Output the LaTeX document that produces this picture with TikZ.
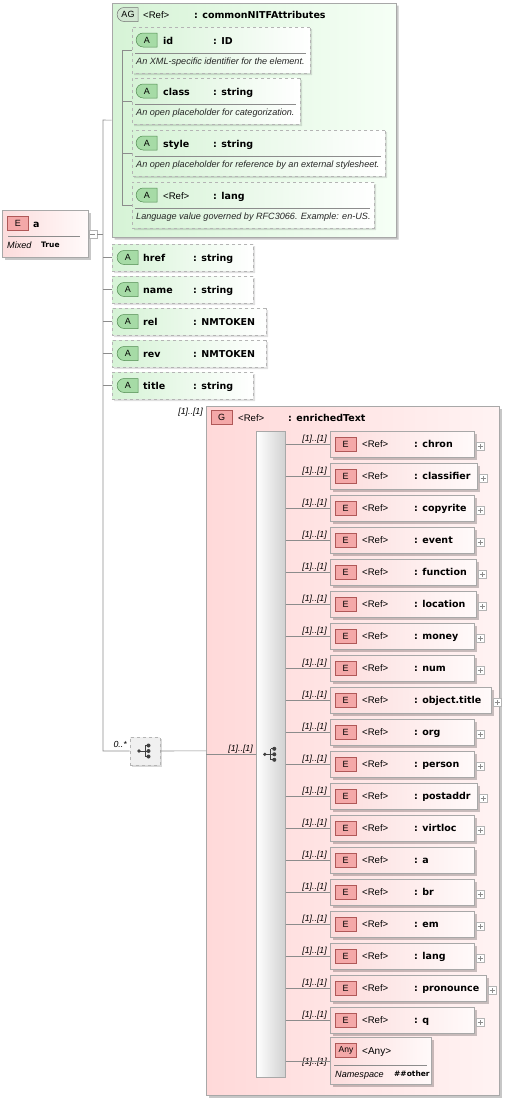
\documentclass[tikz,border=0pt]{standalone}
\usepackage{fontspec}
\setmainfont{Liberation Sans}
\newfontfamily\namefont{DejaVu Sans}
\usetikzlibrary{shapes.misc,shadows}

\definecolor{lineGray}{HTML}{8C8C8C}
\definecolor{boxGray}{HTML}{A8A8A8}
\definecolor{dashGray}{HTML}{B4B4B4}
\definecolor{pinkL}{HTML}{FCDCDC}
\definecolor{pinkR}{HTML}{FFFAFA}
\definecolor{grpL}{HTML}{FFD9D9}
\definecolor{grpR}{HTML}{FFF3F3}
\definecolor{badgePink}{HTML}{F4A8A8}
\definecolor{badgeRed}{HTML}{B05858}
\definecolor{greenL}{HTML}{D6F3D6}
\definecolor{greenR}{HTML}{F6FFF6}
\definecolor{badgeGreen}{HTML}{A6DBA6}
\definecolor{badgeDkGreen}{HTML}{4F8A4F}
\definecolor{agBadge}{HTML}{D2E6D2}

\tikzset{
  conn/.style={draw=lineGray, line width=0.6pt},
  boxshadow/.style={drop shadow={shadow xshift=2.5pt, shadow yshift=-2.5pt, fill=black, opacity=0.22}},
  elbox/.style={rectangle, draw=boxGray, line width=0.6pt, left color=pinkL, right color=pinkR, inner sep=0, boxshadow},
  grpbox/.style={rectangle, draw=boxGray, line width=0.6pt, left color=grpL, right color=grpR, inner sep=0, boxshadow},
  barbox/.style={rectangle, draw=boxGray, line width=0.6pt, left color=white, right color=black!18, inner sep=0},
  agbox/.style={chamfered rectangle, chamfered rectangle corners={north west,south west},
    chamfered rectangle xsep=10pt, chamfered rectangle ysep=10pt, draw=boxGray, line width=0.6pt,
    left color=greenL, right color=greenR, inner sep=0, boxshadow},
  attbox/.style={chamfered rectangle, chamfered rectangle corners={north west,south west},
    chamfered rectangle xsep=7pt, chamfered rectangle ysep=7pt, draw=dashGray, dashed, line width=0.7pt,
    left color=greenL, right color=white, inner sep=0,
    drop shadow={shadow xshift=2pt, shadow yshift=-2pt, fill=black, opacity=0.12}},
  compbox/.style={rectangle, draw=dashGray, dashed, line width=0.7pt, fill=black!6, inner sep=0,
    minimum width=30, minimum height=28,
    drop shadow={shadow xshift=2pt, shadow yshift=-2pt, fill=black, opacity=0.15}},
  ebadge/.style={rectangle, draw=badgeRed, fill=badgePink, line width=0.5pt, minimum width=21, minimum height=14,
    inner sep=0, font=\fontsize{9}{10}\selectfont},
  abadge/.style={rounded rectangle, rounded rectangle right arc=none, draw=badgeDkGreen, fill=badgeGreen,
    line width=0.5pt, minimum width=21, minimum height=14, inner sep=0, font=\fontsize{9}{10}\selectfont},
  agbadge/.style={abadge, fill=agBadge, draw=black!55},
  namelbl/.style={anchor=base west, inner sep=0, font=\namefont\bfseries\fontsize{9.5}{11}\selectfont},
  reflbl/.style={anchor=base west, inner sep=0, font=\fontsize{9.6}{11}\selectfont},
  doclbl/.style={anchor=base west, inner sep=0, font=\itshape\fontsize{9.1}{10}\selectfont, text=black!85},
  mult/.style={anchor=base east, inner sep=0, font=\itshape\fontsize{8.8}{10}\selectfont},
  smallbold/.style={anchor=base west, inner sep=0, font=\namefont\bfseries\fontsize{7.5}{9}\selectfont},
  plusbox/.style={rectangle, draw=dashGray, fill=white, minimum size=8, inner sep=0,
    path picture={\draw[black!45, line width=0.5pt]
      ([xshift=-2.5pt]path picture bounding box.center) -- ([xshift=2.5pt]path picture bounding box.center)
      ([yshift=-2.5pt]path picture bounding box.center) -- ([yshift=2.5pt]path picture bounding box.center);}},
  minusbox/.style={rectangle, draw=dashGray, fill=white, minimum size=8, inner sep=0,
    path picture={\draw[black!45, line width=0.5pt]
      ([xshift=-2.5pt]path picture bounding box.center) -- ([xshift=2.5pt]path picture bounding box.center);}},
  chicon/.pic={
    \fill[black!75] (-6,0) circle (1.8);
    \draw[black!75, line width=0.8pt] (-6,0) -- (0,0) (0,-5.5) -- (0,5.5);
    \foreach \k in {-5.5,0,5.5} {\draw[black!75, line width=0.8pt] (0,\k) -- (3,\k); \fill[black!75] (3.5,\k) circle (2);}
  }
}

\begin{document}
\begin{tikzpicture}[x=1pt, y=-1pt]
  \fill[white] (0,0) rectangle (506,1101);
  \useasboundingbox (0,0) rectangle (506,1101);

  % root element
  \node[elbox, minimum width=86, minimum height=47, anchor=north west] (root) at (2,210) {};
  \node[ebadge] (rootE) at (18,223) {E};
  \node[namelbl] (rootN) at (33,227) {a};
  \draw[black!45, line width=0.5pt] (8,236) -- (80,236);
  \node[doclbl, text=black] (rootMx) at (7,248) {Mixed};
  \node[smallbold] (rootMv) at (41,247) {True};
  \node[minusbox, anchor=west] (rootc) at (root.east) {};

  % attribute group
  \node[agbox, minimum width=284, minimum height=234, anchor=north west] (ag) at (112,3) {};
  \node[agbadge] (agB) at (128,14.5) {AG};
  \node[reflbl] (agR) at (143,18) {<Ref>};
  \node[namelbl] (agN) at (194,18) {: commonNITFAttributes};

  \foreach \i/\nm/\ty/\doc/\tp/\r in {
      0/id/ID/An XML-specific identifier for the element./27/310,
      1/class/string/An open placeholder for categorization./78/300,
      2/style/string/An open placeholder for reference by an external stylesheet./130/385,
      3/{\normalfont\fontsize{9.6}{11}\selectfont <Ref>}/lang/Language value governed by RFC3066. Example: en-US./182/374}{
    \pgfmathsetmacro\ww{\r-132}
    \node[attbox, minimum width=\ww pt, minimum height=46, anchor=north west] (ai\i) at (132,\tp) {};
    \node[abadge] (aiB\i) at (147,\tp+13) {A};
    \node[namelbl] (aiN\i) at (163,\tp+17) {\nm};
    \node[namelbl] (aiT\i) at (213,\tp+17) {: \ty};
    \draw[black!45, line width=0.5pt] (135,\tp+26) -- (\r-4,\tp+26);
    \node[doclbl] (aiD\i) at (136,\tp+37) {\doc};
  }
  \coordinate (agv) at (122,0);
  \draw[conn] (agv |- ai0.west) -- (agv |- ai3.west);
  \foreach \i in {0,...,3} \draw[conn] (agv |- ai\i.west) -- (ai\i.west);

  % attributes
  \foreach \i/\nm/\ty/\r in {0/href/string/253, 1/name/string/253, 2/rel/NMTOKEN/266,
      3/rev/NMTOKEN/266, 4/title/string/253}{
    \pgfmathsetmacro\ww{\r-112}
    \node[attbox, minimum width=\ww pt, minimum height=27, anchor=north west] (at\i) at (112,244+32*\i) {};
    \node[abadge] (atB\i) at (128,257.5+32*\i) {A};
    \node[namelbl] (atN\i) at (143,261.5+32*\i) {\nm};
    \node[namelbl] (atT\i) at (193,261.5+32*\i) {: \ty};
  }

  % choice compositor
  \node[compbox] (ch) at (145,751) {};
  \pic at (ch.center) {chicon};
  \node[mult] (chM) at (127,747) {0..*};

  % trunk
  \coordinate (trunk) at (103,120);
  \draw[conn] (rootc.east) -- (trunk |- rootc.east);
  \draw[conn] (ag.west) -- (trunk) -- (trunk |- ch.west) -- (ch.west);
  \foreach \i in {0,...,4} \draw[conn] (trunk |- at\i.west) -- (at\i.west);

  % group enrichedText
  \node[grpbox, minimum width=293, minimum height=689, anchor=north west] (grp) at (206,406) {};
  \node[mult] (grpM) at (203,414) {[1]..[1]};
  \node[ebadge] (grpB) at (221.5,417.5) {G};
  \node[reflbl] (grpR) at (238,421) {<Ref>};
  \node[namelbl] (grpN) at (288,421) {: enrichedText};
  \draw[conn] (ch.east) -- (grp.west);

  \node[barbox, minimum width=29, minimum height=646, anchor=north west] (bar) at (256,431) {};
  \pic at (bar.center) {chicon};
  \draw[conn] (grp.west |- bar.west) -- (bar.west);
  \node[mult] (barM) at (253,751) {[1]..[1]};

  % choice members
  \foreach \i/\nm/\r/\p in {0/chron/474/1, 1/classifier/477/1, 2/copyrite/474/1, 3/event/474/1,
      4/function/476/1, 5/location/476/1, 6/money/474/1, 7/num/474/1, 8/object.title/491/1,
      9/org/474/1, 10/person/474/1, 11/postaddr/477/1, 12/virtloc/474/1, 13/a/474/0,
      14/br/474/1, 15/em/474/1, 16/lang/474/1, 17/pronounce/486/1, 18/q/474/1}{
    \pgfmathsetmacro\yy{444+32*\i}
    \pgfmathsetmacro\ww{\r-330}
    \node[elbox, minimum width=\ww pt, minimum height=26, anchor=west] (el\i) at (330,\yy) {};
    \node[ebadge] (elB\i) at (345.5,\yy) {E};
    \node[reflbl] (elR\i) at (362,\yy+3.5) {<Ref>};
    \node[namelbl] (elN\i) at (414,\yy+3.5) {: \nm};
    \node[mult] (elM\i) at (327,\yy-3) {[1]..[1]};
    \draw[conn] (bar.east |- el\i.west) -- (el\i.west);
    \ifnum\p=1 \node[plusbox] (elP\i) at (\r+6,\yy+2) {}; \fi
  }

  % any
  \node[elbox, minimum width=101, minimum height=47, anchor=north west] (any) at (330,1037) {};
  \node[ebadge, font=\fontsize{8.5}{9}\selectfont] (anyB) at (346,1050) {Any};
  \node[reflbl, font=\fontsize{10}{11}\selectfont] (anyR) at (362,1054) {<Any>};
  \draw[black!45, line width=0.5pt] (334,1065) -- (427,1065);
  \node[doclbl, text=black] (anyNs) at (335,1077) {Namespace};
  \node[smallbold] (anyNv) at (394,1076.5) {\#\#other};
  \node[mult] (anyM) at (327,1064) {[1]..[1]};
  \draw[conn] (bar.east |- any.west) -- (any.west);
\end{tikzpicture}
\end{document}
